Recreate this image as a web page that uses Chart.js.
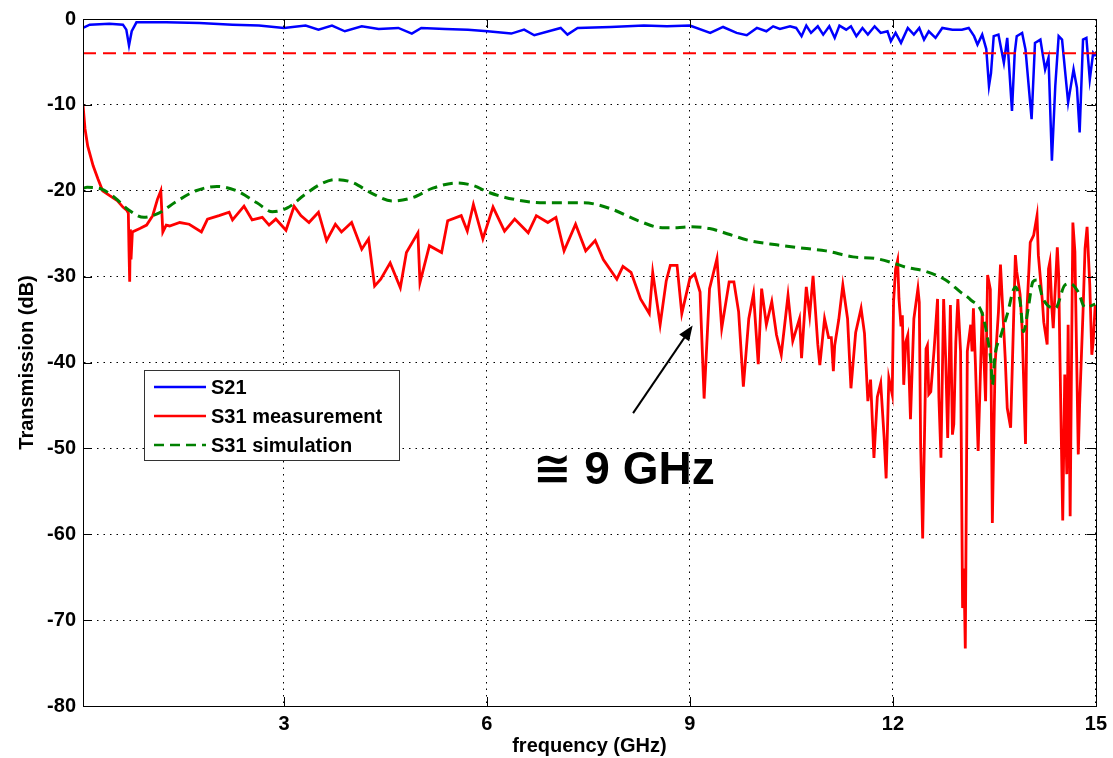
<!DOCTYPE html>
<html>
<head>
<meta charset="utf-8">
<script src="https://cdn.jsdelivr.net/npm/chart.js@4.4.1/dist/chart.umd.min.js"></script>
<style>
html,body{margin:0;padding:0;background:#fff;}
#wrap{width:1113px;height:758px;}
</style>
</head>
<body>
<div id="wrap"><canvas id="c" width="1113" height="758"></canvas></div>
<script>
// ---------- DATA ----------
const xTicks = [3, 6, 9, 12, 15];
const yTicks = [0, -10, -20, -30, -40, -50, -60, -70, -80];
const seriesLabels = ['S21', 'S31 measurement', 'S31 simulation'];

const s21Freq = [0.03,0.13,0.42,0.62,0.67,0.71,0.75,0.82,1.26,1.75,2.24,2.63,3.0,3.32,3.51,3.71,3.9,4.15,4.4,4.69,4.89,5.03,5.38,5.72,6.01,6.36,6.55,6.7,7.09,7.19,7.34,7.83,8.32,8.66,9.0,9.3,9.49,9.69,9.84,9.99,10.13,10.23,10.33,10.48,10.57,10.65,10.72,10.79,10.89,10.97,11.06,11.14,11.21,11.31,11.38,11.46,11.55,11.63,11.73,11.82,11.92,11.97,12.04,12.12,12.22,12.31,12.39,12.46,12.53,12.63,12.73,12.88,13.02,13.12,13.2,13.25,13.32,13.38,13.42,13.45,13.49,13.56,13.64,13.69,13.76,13.8,13.83,13.91,13.96,14.05,14.1,14.18,14.25,14.3,14.35,14.4,14.45,14.5,14.59,14.67,14.72,14.76,14.81,14.86,14.91,14.96,15.0];
const s21Db = [-1.04,-0.66,-0.54,-0.66,-1.24,-3.09,-1.43,-0.39,-0.39,-0.46,-0.66,-0.77,-1.04,-0.77,-1.24,-0.77,-1.43,-0.85,-1.16,-1.04,-1.7,-1.04,-1.16,-1.24,-1.43,-1.7,-1.24,-1.89,-1.04,-1.82,-1.04,-0.93,-0.77,-0.85,-0.77,-1.62,-0.93,-1.62,-1.89,-1.04,-1.43,-0.85,-1.16,-0.85,-1.04,-2.0,-0.77,-1.62,-0.85,-1.82,-0.85,-2.2,-0.77,-1.24,-0.85,-2.0,-1.04,-1.82,-0.85,-1.62,-1.43,-2.59,-1.62,-2.78,-1.04,-1.82,-1.04,-2.4,-1.43,-2.2,-1.04,-1.24,-1.24,-1.04,-2.0,-2.98,-1.82,-3.5,-7.8,-6.3,-2.0,-1.82,-5.1,-2.2,-10.7,-4.0,-2.0,-1.62,-3.56,-11.67,-2.78,-2.4,-5.87,-4.5,-16.5,-7.8,-2.0,-2.4,-9.74,-5.87,-8.0,-13.2,-2.4,-2.2,-7.03,-3.94,-4.33];

const measFreq = [0.03,0.06,0.10,0.18,0.25,0.32,0.43,0.53,0.62,0.68,0.70,0.71,0.72,0.73,0.74,0.76,0.87,0.97,1.06,1.13,1.18,1.21,1.26,1.31,1.46,1.60,1.78,1.87,2.04,2.19,2.24,2.41,2.53,2.68,2.78,2.88,3.03,3.15,3.25,3.37,3.51,3.63,3.76,3.85,4.0,4.15,4.25,4.34,4.43,4.57,4.72,4.81,4.98,5.01,5.15,5.33,5.42,5.62,5.71,5.80,5.94,6.09,6.26,6.41,6.61,6.73,6.90,7.02,7.14,7.31,7.46,7.60,7.72,7.92,8.01,8.13,8.27,8.40,8.45,8.56,8.65,8.71,8.81,8.88,9.0,9.07,9.15,9.21,9.29,9.40,9.47,9.58,9.65,9.72,9.79,9.87,9.94,10.01,10.06,10.13,10.21,10.28,10.35,10.45,10.52,10.62,10.65,10.72,10.77,10.82,10.89,10.92,10.99,11.05,11.09,11.12,11.14,11.20,11.26,11.33,11.38,11.45,11.53,11.58,11.63,11.67,11.72,11.77,11.82,11.87,11.90,11.94,11.99,12.01,12.04,12.07,12.09,12.12,12.14,12.16,12.19,12.22,12.26,12.31,12.37,12.39,12.41,12.44,12.49,12.51,12.53,12.56,12.61,12.66,12.68,12.71,12.75,12.78,12.81,12.85,12.88,12.90,12.93,12.96,13.0,13.03,13.05,13.07,13.10,13.15,13.17,13.19,13.22,13.26,13.32,13.37,13.40,13.44,13.47,13.51,13.56,13.59,13.66,13.69,13.74,13.81,13.83,13.88,13.91,13.96,13.98,14.03,14.08,14.13,14.15,14.21,14.23,14.28,14.30,14.32,14.35,14.37,14.43,14.45,14.47,14.51,14.54,14.57,14.59,14.62,14.64,14.66,14.69,14.74,14.76,14.81,14.84,14.87,14.91,14.94,14.96,14.99];
const measDb = [-10.0,-12.8,-14.8,-17.1,-18.6,-20.0,-20.6,-21.1,-21.9,-22.3,-22.6,-27.0,-30.6,-24.5,-28.0,-24.8,-24.4,-24.0,-22.9,-21.0,-20.0,-24.8,-24.0,-24.1,-23.7,-23.9,-24.8,-23.3,-22.9,-22.5,-23.4,-21.8,-23.4,-23.1,-24.0,-23.3,-24.6,-21.8,-22.9,-23.7,-22.5,-25.8,-23.9,-24.8,-23.7,-26.8,-25.6,-31.1,-30.3,-28.4,-31.3,-27.2,-24.9,-30.7,-26.4,-27.2,-23.5,-22.9,-24.7,-21.6,-25.6,-21.9,-24.7,-23.3,-24.9,-22.9,-23.7,-23.1,-27.0,-23.9,-27.0,-25.8,-28.0,-30.3,-28.8,-29.5,-32.6,-34.3,-29.5,-35.6,-30.5,-28.7,-28.7,-34.3,-30.2,-29.7,-31.8,-44.2,-31.4,-27.9,-36.0,-30.6,-30.6,-34.1,-42.8,-34.9,-32.0,-40.2,-31.4,-35.6,-32.9,-36.8,-39.1,-32.2,-37.5,-34.9,-39.5,-31.2,-34.5,-29.9,-37.9,-40.3,-34.9,-37.1,-37.1,-41.0,-38.0,-35.0,-31.0,-34.9,-43.0,-36.5,-33.7,-36.6,-44.5,-42.0,-51.1,-44.0,-42.4,-48.7,-53.5,-41.8,-43.7,-32.9,-29.1,-28.1,-32.6,-35.8,-34.5,-42.6,-37.6,-36.8,-46.6,-34.9,-31.4,-33.0,-49.5,-60.5,-38.4,-38.0,-43.7,-43.4,-38.4,-32.6,-44.1,-51.1,-32.6,-39.5,-48.8,-33.3,-48.4,-47.2,-37.6,-32.6,-38.7,-68.6,-64.0,-73.3,-38.7,-35.6,-38.7,-33.7,-40.2,-50.3,-34.1,-44.5,-29.8,-31.5,-58.7,-40.2,-34.1,-28.6,-39.5,-45.3,-47.6,-27.5,-29.4,-32.1,-36.0,-49.5,-34.1,-26.0,-25.2,-22.9,-27.5,-32.9,-35.3,-37.9,-29.1,-28.3,-33.7,-36.0,-26.6,-29.8,-39.9,-58.4,-41.4,-53.0,-35.6,-57.9,-39.9,-23.7,-27.1,-50.7,-44.9,-34.1,-26.7,-24.2,-31.0,-39.1,-37.6,-33.3];

const simFreq = [0.03,0.09,0.3,0.5,0.7,0.93,1.15,1.4,1.7,2.01,2.3,2.6,2.83,3.05,3.3,3.55,3.76,4.0,4.3,4.6,4.9,5.2,5.56,5.8,6.03,6.4,6.84,7.43,7.83,8.24,8.59,8.81,9.0,9.29,9.59,9.88,10.28,10.68,11.01,11.41,11.75,12.0,12.19,12.49,12.78,13.0,13.15,13.32,13.4,13.45,13.47,13.51,13.59,13.69,13.81,13.88,13.93,14.0,14.07,14.13,14.22,14.4,14.54,14.62,14.74,14.84,14.99];
const simDb = [-19.7,-19.6,-19.8,-20.8,-22.2,-23.1,-22.6,-21.3,-20.0,-19.5,-20.0,-21.4,-22.45,-22.0,-20.5,-19.2,-18.7,-19.0,-20.3,-21.2,-20.8,-19.7,-19.1,-19.4,-20.2,-21.0,-21.4,-21.4,-22.1,-23.5,-24.3,-24.3,-24.2,-24.4,-25.1,-25.8,-26.3,-26.7,-27.0,-27.7,-27.9,-28.4,-28.9,-29.4,-30.4,-31.8,-32.7,-34.3,-37.2,-40.0,-42.6,-39.1,-37.0,-34.4,-31.2,-32.9,-36.4,-33.7,-30.6,-30.4,-32.6,-33.7,-31.0,-30.8,-31.8,-33.6,-33.2];

const thresholdFreq = [0.03, 15];
const thresholdDb = [-4, -4];

const annotationText = '\u2245 9 GHz';
const annotationAt = {x: 6.68, y: -54.1};
const arrowFrom = {x: 8.16, y: -45.9};
const arrowTo = {x: 9.04, y: -35.7};

// ---------- BUILD ----------
const pts = (xs, ys) => xs.map((v, i) => ({x: v, y: ys[i]}));
const FONT = '"Liberation Sans", Arial, "DejaVu Sans", sans-serif';

const decor = {
  id: 'decor',
  afterDraw(chart) {
    const {ctx, chartArea: a, scales: {x, y}} = chart;
    ctx.save();
    ctx.setLineDash([]);
    ctx.strokeStyle = '#000';
    ctx.lineWidth = 1;
    ctx.strokeRect(Math.round(a.left) + 0.5, Math.round(a.top) + 0.5, Math.round(a.right - a.left), Math.round(a.bottom - a.top));
    const tl = 9;
    ctx.beginPath();
    xTicks.forEach(v => {
      const px = Math.round(x.getPixelForValue(v)) + 0.5;
      ctx.moveTo(px, a.bottom); ctx.lineTo(px, a.bottom - tl);
      ctx.moveTo(px, a.top); ctx.lineTo(px, a.top + tl);
    });
    yTicks.forEach(v => {
      const py = Math.round(y.getPixelForValue(v)) + 0.5;
      ctx.moveTo(a.left, py); ctx.lineTo(a.left + tl, py);
      ctx.moveTo(a.right, py); ctx.lineTo(a.right - tl, py);
    });
    ctx.stroke();

    // legend
    const lx = a.left + 61, ly = a.top + 351, lw = 255, lh = 90;
    ctx.fillStyle = '#fff';
    ctx.fillRect(lx, ly, lw, lh);
    ctx.strokeStyle = '#333';
    ctx.lineWidth = 1;
    ctx.strokeRect(lx + 0.5, ly + 0.5, lw, lh);
    const ds = chart.data.datasets.filter(d => seriesLabels.includes(d.label));
    ds.forEach((d, i) => {
      const yy = ly + 17 + i * 29;
      ctx.beginPath();
      ctx.strokeStyle = d.borderColor;
      ctx.lineWidth = 2.5;
      ctx.setLineDash(d.borderDash || []);
      ctx.moveTo(lx + 10, yy); ctx.lineTo(lx + 62, yy);
      ctx.stroke();
      ctx.setLineDash([]);
      ctx.fillStyle = '#000';
      ctx.font = 'bold 20px ' + FONT;
      ctx.textBaseline = 'middle';
      ctx.textAlign = 'left';
      ctx.fillText(d.label, lx + 67, yy + 1);
    });

    // arrow
    const x1 = x.getPixelForValue(arrowFrom.x), y1 = y.getPixelForValue(arrowFrom.y);
    const x2 = x.getPixelForValue(arrowTo.x), y2 = y.getPixelForValue(arrowTo.y);
    const ang = Math.atan2(y2 - y1, x2 - x1);
    ctx.strokeStyle = '#000'; ctx.fillStyle = '#000'; ctx.lineWidth = 2;
    ctx.beginPath();
    ctx.moveTo(x1, y1);
    ctx.lineTo(x2 - 10 * Math.cos(ang), y2 - 10 * Math.sin(ang));
    ctx.stroke();
    const hl = 15, hw = 6;
    ctx.beginPath();
    ctx.moveTo(x2, y2);
    ctx.lineTo(x2 - hl * Math.cos(ang) + hw * Math.sin(ang), y2 - hl * Math.sin(ang) - hw * Math.cos(ang));
    ctx.lineTo(x2 - hl * Math.cos(ang) - hw * Math.sin(ang), y2 - hl * Math.sin(ang) + hw * Math.cos(ang));
    ctx.closePath();
    ctx.fill();

    // annotation text
    ctx.font = 'bold 46px ' + FONT;
    ctx.textBaseline = 'alphabetic';
    ctx.textAlign = 'left';
    ctx.fillText(annotationText, x.getPixelForValue(annotationAt.x), y.getPixelForValue(annotationAt.y));
    ctx.restore();
  }
};

new Chart(document.getElementById('c'), {
  type: 'line',
  data: {
    datasets: [
      {label: 'S21', data: pts(s21Freq, s21Db), borderColor: '#0000ff', borderWidth: 2.5, pointRadius: 0, tension: 0, order: 4},
      {label: 'S31 measurement', data: pts(measFreq, measDb), borderColor: '#ff0000', borderWidth: 2.8, pointRadius: 0, tension: 0, order: 3},
      {label: 'S31 simulation', data: pts(simFreq, simDb), borderColor: '#008000', borderWidth: 3, borderDash: [10, 6], pointRadius: 0, cubicInterpolationMode: 'monotone', order: 2},
      {label: 'threshold', data: pts(thresholdFreq, thresholdDb), borderColor: '#ff0000', borderWidth: 2, borderDash: [13, 7], pointRadius: 0, order: 1}
    ]
  },
  options: {
    responsive: false,
    animation: false,
    devicePixelRatio: 1,
    layout: {padding: {top: 16, right: 12, left: 0, bottom: 0}},
    plugins: {legend: {display: false}, tooltip: {enabled: false}},
    scales: {
      x: {
        type: 'linear', min: 0.03, max: 15,
        afterBuildTicks: s => { s.ticks = xTicks.map(v => ({value: v})); },
        afterFit: s => { s.height = 52; },
        ticks: {autoSkip: false, maxRotation: 0, padding: 6, color: '#000', font: {family: FONT, size: 20, weight: 'bold'}},
        grid: {color: '#000', lineWidth: 1, drawTicks: false},
        border: {display: true, color: '#000', width: 1, dash: [1.5, 5]},
        title: {display: true, text: 'frequency (GHz)', color: '#000', font: {family: FONT, size: 20, weight: 'bold'}, padding: {top: 0, bottom: 0}}
      },
      y: {
        type: 'linear', min: -80, max: 0,
        afterBuildTicks: s => { s.ticks = yTicks.map(v => ({value: v})); },
        afterFit: s => { s.width = 83; },
        ticks: {autoSkip: false, padding: 7, color: '#000', font: {family: FONT, size: 20, weight: 'bold'}},
        grid: {color: '#000', lineWidth: 1, drawTicks: false},
        border: {display: true, color: '#000', width: 1, dash: [1.5, 5]},
        title: {display: true, text: 'Transmission (dB)', color: '#000', font: {family: FONT, size: 20, weight: 'bold'}, padding: {top: 15, bottom: 0}}
      }
    }
  },
  plugins: [decor]
});
</script>
</body>
</html>
